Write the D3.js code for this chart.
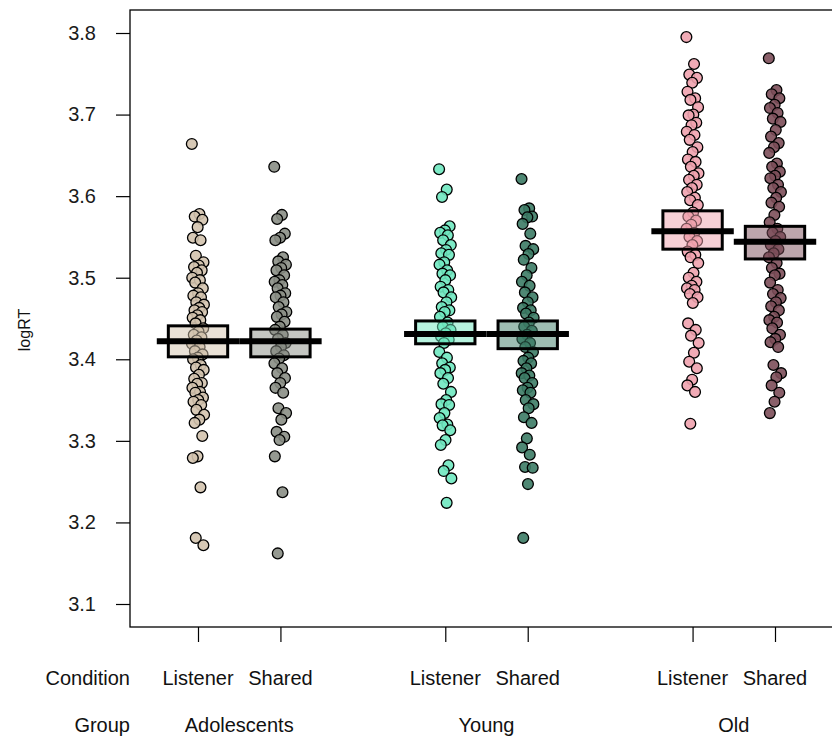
<!DOCTYPE html>
<html>
<head>
<meta charset="utf-8">
<script src="https://cdn.jsdelivr.net/npm/d3@7"></script>
<style>
  html, body { margin: 0; padding: 0; background: #fff; }
  svg { display: block; font-family: "Liberation Sans", Arial, sans-serif; }
</style>
</head>
<body>
<svg id="chart" width="832" height="737"></svg>
<script>
// Groups and conditions on the x axis
const groups = ["Adolescents", "Young", "Old"];
const conditions = ["Listener", "Shared"];
const yTicks = [3.1, 3.2, 3.3, 3.4, 3.5, 3.6, 3.7, 3.8];

// Raw logRT observations per cell
const adolescentsListener = [
  3.664, 3.578, 3.575, 3.571, 3.562, 3.549, 3.546,
  3.527, 3.519, 3.515, 3.513, 3.509, 3.506, 3.500, 3.497, 3.494, 3.487, 3.481, 3.478,
  3.476, 3.470, 3.467, 3.463, 3.460, 3.458, 3.454, 3.451, 3.448, 3.444,
  3.438, 3.434, 3.430, 3.427, 3.423, 3.419, 3.415, 3.410, 3.406, 3.402,
  3.400, 3.393, 3.390, 3.387, 3.381, 3.376, 3.371, 3.370, 3.365, 3.360, 3.359, 3.353,
  3.350, 3.348, 3.344, 3.338, 3.332, 3.326, 3.322,
  3.306, 3.281, 3.279, 3.243, 3.181, 3.172
];
const adolescentsShared = [
  3.636, 3.577, 3.572, 3.554, 3.549, 3.546,
  3.525, 3.520, 3.516, 3.512, 3.509, 3.503, 3.497, 3.495, 3.491, 3.487, 3.481, 3.478,
  3.476, 3.470, 3.464, 3.458, 3.455, 3.452, 3.446, 3.440,
  3.436, 3.430, 3.425, 3.420, 3.415, 3.410, 3.405,
  3.401, 3.395, 3.389, 3.383, 3.377, 3.371, 3.365, 3.359,
  3.340, 3.334, 3.326, 3.311, 3.305, 3.301,
  3.281, 3.237, 3.162
];
const youngListener = [
  3.633, 3.608, 3.599,
  3.563, 3.558, 3.555, 3.552, 3.546, 3.540, 3.534, 3.530, 3.528, 3.519, 3.516, 3.509,
  3.505, 3.503, 3.497, 3.489, 3.485, 3.482, 3.476, 3.470, 3.464, 3.460, 3.458, 3.452,
  3.445, 3.440, 3.436, 3.432, 3.428, 3.424, 3.420,
  3.409, 3.402, 3.395, 3.390, 3.387, 3.383, 3.377, 3.370, 3.360, 3.350, 3.345, 3.344,
  3.334, 3.328, 3.320, 3.319, 3.313, 3.301, 3.295,
  3.270, 3.263, 3.254, 3.224
];
const youngShared = [
  3.621, 3.585, 3.583, 3.575, 3.574, 3.566, 3.554, 3.539, 3.535, 3.529, 3.522, 3.512,
  3.503, 3.495, 3.490, 3.482, 3.476, 3.470, 3.463, 3.460, 3.456, 3.451,
  3.445, 3.440, 3.435, 3.430, 3.425, 3.420, 3.415,
  3.409, 3.402, 3.398, 3.395, 3.389, 3.383, 3.380, 3.377, 3.371, 3.365, 3.362, 3.359,
  3.350, 3.345, 3.340, 3.329, 3.322,
  3.303, 3.292, 3.283, 3.268, 3.267, 3.247, 3.181
];
const oldListener = [
  3.795,
  3.762, 3.749, 3.745, 3.739, 3.728, 3.720, 3.718, 3.709, 3.700, 3.699, 3.690, 3.687,
  3.679, 3.675, 3.669, 3.660, 3.654, 3.645, 3.642, 3.636, 3.628, 3.625, 3.620, 3.614,
  3.610, 3.605, 3.598, 3.595, 3.589,
  3.580, 3.575, 3.570, 3.565, 3.560, 3.555, 3.550, 3.545, 3.540,
  3.532, 3.528, 3.525, 3.518, 3.506, 3.500, 3.495, 3.490, 3.487, 3.485, 3.480, 3.476, 3.469,
  3.444, 3.436, 3.429, 3.420, 3.408, 3.397, 3.389, 3.375, 3.368, 3.360, 3.321
];
const oldShared = [
  3.769,
  3.730, 3.725, 3.720, 3.712, 3.708, 3.702, 3.695, 3.691, 3.681, 3.673, 3.665, 3.660,
  3.653, 3.640, 3.636, 3.630, 3.625, 3.622, 3.614, 3.610, 3.605, 3.598, 3.592, 3.587,
  3.577, 3.568,
  3.560, 3.555, 3.550, 3.545, 3.540, 3.535, 3.530, 3.525,
  3.518, 3.512, 3.505, 3.503, 3.494, 3.485, 3.480, 3.475, 3.470, 3.465, 3.460, 3.452,
  3.448, 3.445, 3.438, 3.430, 3.425, 3.421, 3.415,
  3.393, 3.383, 3.378, 3.368, 3.359, 3.348, 3.334
];

// Cell summaries: mean and interval band
const cellMeans = [3.422, 3.422, 3.431, 3.431, 3.557, 3.544];
const cellLower = [3.403, 3.403, 3.419, 3.413, 3.535, 3.523];
const cellUpper = [3.441, 3.437, 3.447, 3.447, 3.582, 3.563];

// Per-cell colours (point fill; the band uses the same colour, half transparent)
const cellColors = ["#d3c3ae", "#8a8e85", "#6fe8c0", "#3c7b65", "#f0a2ae", "#7c4e59"];

const cellValues = [adolescentsListener, adolescentsShared, youngListener, youngShared, oldListener, oldShared];
const cellPositions = [1, 2, 4, 5, 7, 8];

const svg = d3.select("#chart");
const plot = { left: 130, top: 10, right: 870, bottom: 627 };

const x = d3.scaleLinear().domain([1, 8]).range([198, 775]);
const y = d3.scaleLinear().domain([3.0718, 3.8282]).range([plot.bottom, plot.top]);

const cells = cellValues.map((vals, i) => ({
  values: vals,
  pos: cellPositions[i],
  color: cellColors[i],
  mean: cellMeans[i],
  lo: cellLower[i],
  hi: cellUpper[i],
  condition: conditions[i % 2],
  group: groups[Math.floor(i / 2)]
}));

svg.append("defs").append("clipPath").attr("id", "plotClip")
  .append("rect")
  .attr("x", plot.left).attr("y", plot.top)
  .attr("width", plot.right - plot.left).attr("height", plot.bottom - plot.top);

const body = svg.append("g").attr("clip-path", "url(#plotClip)");

// Horizontal spread of points around each cell centre (low-discrepancy sequence)
const spread = i => (((i * 0.6180339887) % 1) - 0.5) * 0.15;

cells.forEach(c => {
  const g = body.append("g");
  g.selectAll("circle")
    .data(c.values)
    .join("circle")
    .attr("cx", (d, i) => x(c.pos + spread(i)))
    .attr("cy", d => y(d))
    .attr("r", 5.4)
    .attr("fill", c.color)
    .attr("fill-opacity", 0.9)
    .attr("stroke", "#000")
    .attr("stroke-width", 1.3);

  // interval band
  g.append("rect")
    .attr("x", x(c.pos - 0.36))
    .attr("y", y(c.hi))
    .attr("width", x(c.pos + 0.36) - x(c.pos - 0.36))
    .attr("height", y(c.lo) - y(c.hi))
    .attr("fill", c.color)
    .attr("fill-opacity", 0.5)
    .attr("stroke", "#000")
    .attr("stroke-width", 3);

  // mean line
  g.append("line")
    .attr("x1", x(c.pos - 0.5))
    .attr("x2", x(c.pos + 0.5))
    .attr("y1", y(c.mean))
    .attr("y2", y(c.mean))
    .attr("stroke", "#000")
    .attr("stroke-width", 6);
});

// Plot frame
svg.append("rect")
  .attr("x", plot.left).attr("y", plot.top)
  .attr("width", plot.right - plot.left).attr("height", plot.bottom - plot.top)
  .attr("fill", "none").attr("stroke", "#000").attr("stroke-width", 1.3);

// Y axis
const yAxis = d3.axisLeft(y).tickValues(yTicks).tickFormat(d3.format(".1f")).tickSize(14).tickPadding(20);
const yg = svg.append("g").attr("transform", `translate(${plot.left},0)`).call(yAxis);
yg.select(".domain").remove();
yg.selectAll(".tick line").attr("stroke", "#000").attr("stroke-width", 1.2);
yg.selectAll(".tick text").attr("font-size", 20).attr("fill", "#1a1a1a")
  .attr("font-family", "Liberation Sans, Arial, sans-serif");

// X axis ticks at each cell
const xAxis = d3.axisBottom(x).tickValues(cellPositions).tickFormat("").tickSize(15);
const xg = svg.append("g").attr("transform", `translate(0,${plot.bottom})`).call(xAxis);
xg.select(".domain").remove();
xg.selectAll(".tick line").attr("stroke", "#000").attr("stroke-width", 1.2);

// Condition row
svg.append("text")
  .attr("x", plot.left).attr("y", 685)
  .attr("text-anchor", "end").attr("font-size", 20).attr("fill", "#111")
  .text("Condition");
svg.selectAll(".condLabel")
  .data(cells)
  .join("text")
  .attr("class", "condLabel")
  .attr("x", d => x(d.pos)).attr("y", 685)
  .attr("text-anchor", "middle").attr("font-size", 20).attr("fill", "#111")
  .text(d => d.condition);

// Group row
svg.append("text")
  .attr("x", plot.left).attr("y", 732)
  .attr("text-anchor", "end").attr("font-size", 20).attr("fill", "#111")
  .text("Group");
svg.selectAll(".groupLabel")
  .data(groups)
  .join("text")
  .attr("class", "groupLabel")
  .attr("x", (d, i) => x(cellPositions[i * 2] + 0.5)).attr("y", 732)
  .attr("text-anchor", "middle").attr("font-size", 20).attr("fill", "#111")
  .text(d => d);

// Y axis title
svg.append("text")
  .attr("transform", "translate(30,330) rotate(-90)")
  .attr("text-anchor", "middle").attr("font-size", 16).attr("fill", "#111")
  .text("logRT");
</script>
</body>
</html>
